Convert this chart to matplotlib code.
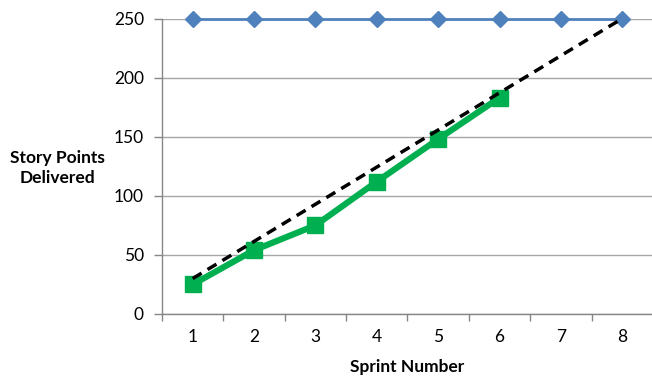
import matplotlib
matplotlib.use("Agg")
import matplotlib.pyplot as plt

sprints = [1, 2, 3, 4, 5, 6, 7, 8]
scope = [250, 250, 250, 250, 250, 250, 250, 250]
delivered_x = [1, 2, 3, 4, 5, 6]
delivered = [25, 54, 75, 112, 148, 183]
ideal_x = [1, 8]
ideal = [30, 250]
yticks = [0, 50, 100, 150, 200, 250]

plt.rcParams['font.family'] = ['Lato', 'DejaVu Sans']

W, H = 652, 377
fig = plt.figure(figsize=(W / 100, H / 100), dpi=100)
ax = fig.add_axes([162 / W, 1 - 314 / H, (653 - 162) / W, (314 - 18.5) / H])

ax.plot(sprints, scope, color='#4F81BD', lw=2, marker='D', ms=8,
        markerfacecolor='#4F81BD', markeredgecolor='#4F81BD', zorder=3, clip_on=False)
ax.plot(delivered_x, delivered, color='#00B050', lw=4.5, marker='s', ms=12,
        markerfacecolor='#00B050', markeredgecolor='#00B050', zorder=4, clip_on=False)
ax.plot(ideal_x, ideal, color='black', lw=2.5, ls=(0, (3, 2)), zorder=5, clip_on=False)

ax.set_xlim(0.5, 8.5)
ax.set_ylim(0, 250)
ax.set_yticks(yticks)
ax.set_yticklabels([str(v) for v in yticks], fontsize=12.5)
ax.set_xticks(sprints)
ax.set_xticklabels([str(s) for s in sprints], fontsize=12.5)
ax.set_xticks([s + 0.5 for s in [0] + sprints], minor=True)
ax.tick_params(axis='x', which='major', length=0, pad=11)
ax.tick_params(axis='x', which='minor', length=5, color='#868686', width=1)
ax.tick_params(axis='y', which='major', length=6, color='#868686', width=1, pad=7)

ax.grid(axis='y', color='#A6A6A6', lw=1)
ax.set_axisbelow(True)
for s in ['top', 'right']:
    ax.spines[s].set_visible(False)
ax.spines['left'].set_color('#868686')
ax.spines['bottom'].set_color('#868686')
ax.spines['left'].set_linewidth(1)
ax.spines['bottom'].set_linewidth(1)

fig.text(57 / W, 1 - 168 / H, 'Story Points\nDelivered', ha='center', va='center',
         fontsize=12.5, fontweight='bold', linespacing=1.3)
fig.text(407 / W, 1 - 367 / H, 'Sprint Number', ha='center', va='center',
         fontsize=12.5, fontweight='bold')

fig.savefig('out.png', dpi=100)
